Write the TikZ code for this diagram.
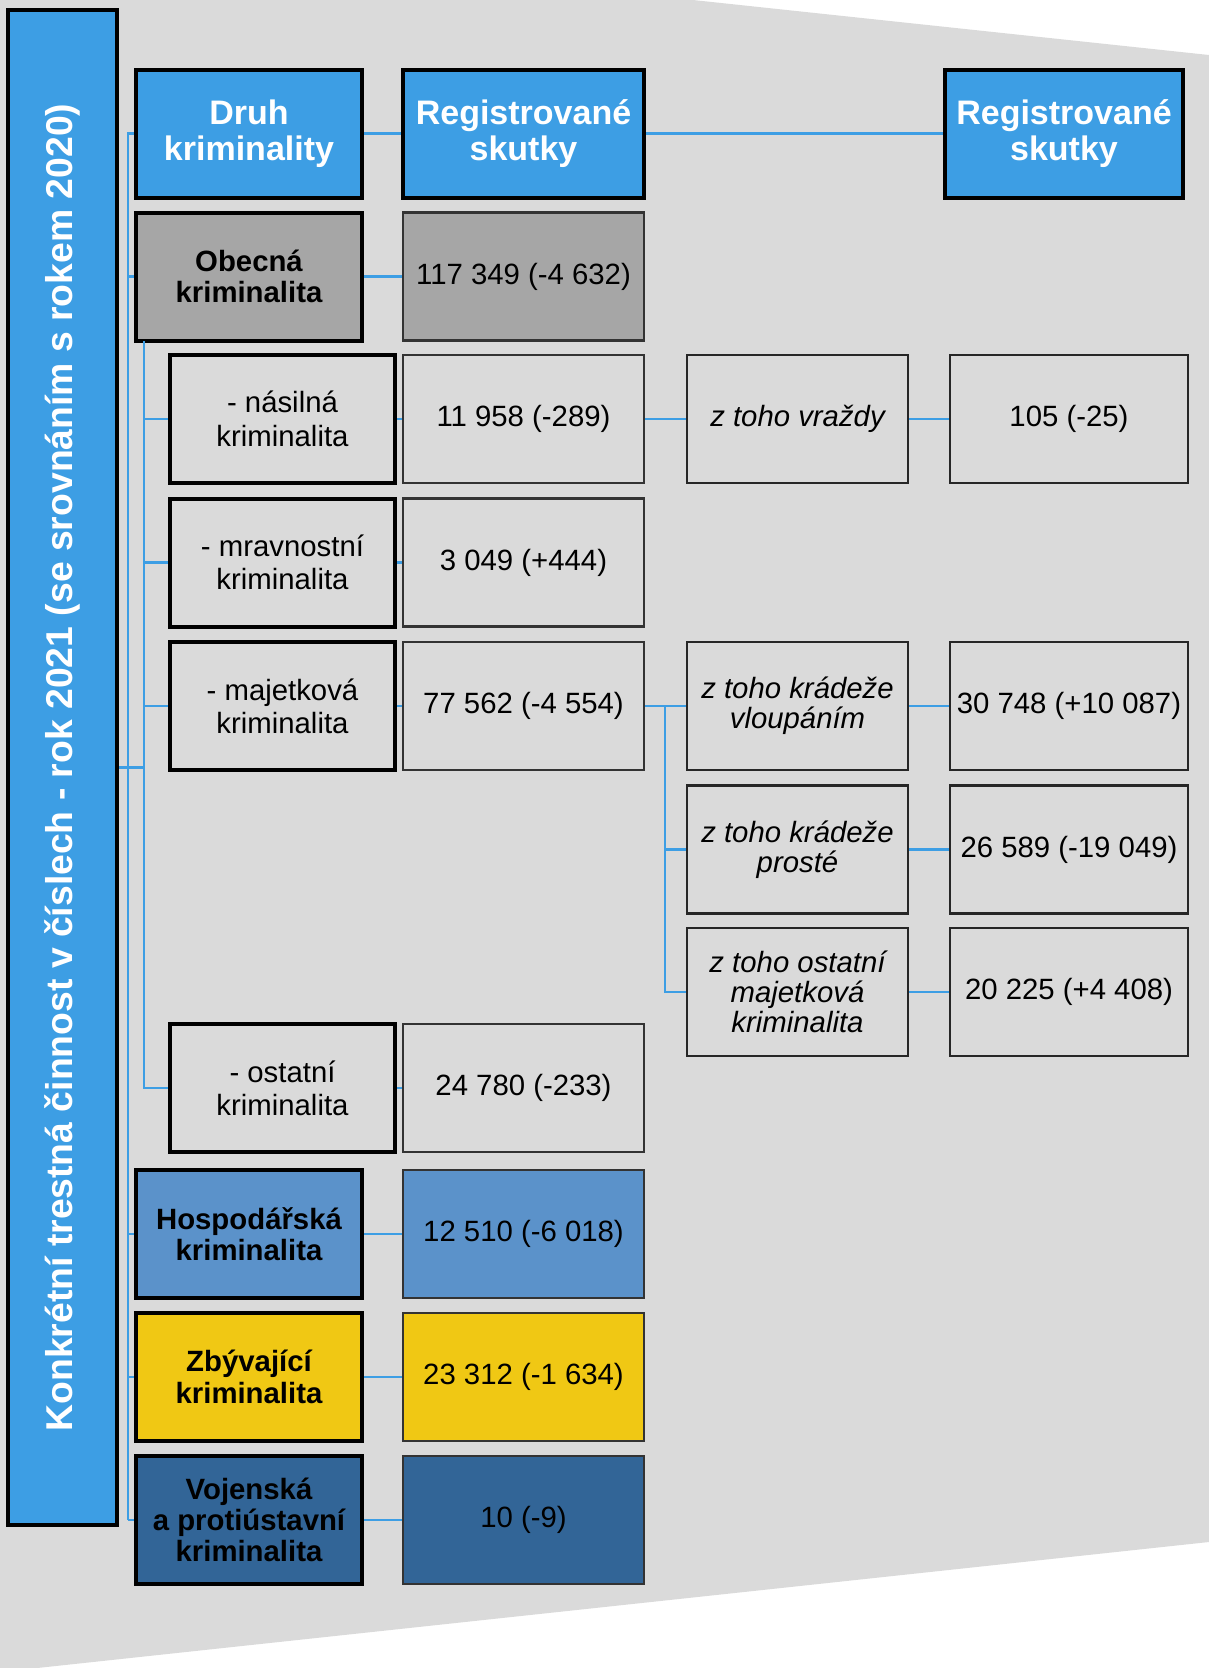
\documentclass[tikz,border=0pt]{standalone}
\usepackage{fontspec}
\setmainfont{Liberation Sans}
\usepackage{tikz}
\usetikzlibrary{positioning}
\definecolor{pcrblue}{RGB}{61,158,228}
\definecolor{pcrgrey}{RGB}{218,218,218}
\definecolor{obecgrey}{RGB}{166,166,166}
\definecolor{hospblue}{RGB}{91,146,202}
\definecolor{zbyvyellow}{RGB}{240,200,20}
\definecolor{vojblue}{RGB}{50,101,151}

\begin{document}
\begin{tikzpicture}[x=0.75pt,y=-0.75pt,
    cell/.style={rectangle, align=center, inner sep=2pt, minimum height=96pt},
    druhbox/.style={cell, minimum width=169.5pt, draw=black, line width=3pt, font=\bfseries\fontsize{22}{23.5}\selectfont},
    hodnbox/.style={cell, minimum width=180.75pt, draw=black!80, line width=2pt, font=\fontsize{22}{24}\selectfont},
    podbox/.style={cell, minimum width=168.75pt, draw=black, line width=3pt, font=\fontsize{22}{25}\selectfont},
    ztohobox/.style={cell, minimum width=165.75pt, draw=black!85, line width=2.2pt, font=\itshape\fontsize{22}{22.5}\selectfont},
    pocetbox/.style={cell, minimum width=178.5pt, draw=black!85, line width=2.2pt, font=\fontsize{22}{24}\selectfont},
    hlavicka/.style={fill=pcrblue, text=white, draw=black, line width=3pt, font=\bfseries\fontsize{25.5}{27}\selectfont},
    link/.style={draw=pcrblue, line width=1.9pt}]
    \useasboundingbox (0,0) rectangle (1209,1668);
    % grey backdrop
    \fill[pcrgrey] (0,0) -- (693,0) -- (1209,55) -- (1209,1542) -- (0,1672) -- cycle;

    % side title
    \node (title) [rotate=90, fill=pcrblue, draw=black, line width=3pt, minimum width=1136pt, minimum height=81.75pt,
        text=white, font=\bfseries\fontsize{28}{30}\selectfont] at (62.5,767.5)
        {Konkrétní trestná činnost v číslech - rok 2021 (se srovnáním s rokem 2020)};

    % header row
    \node (druh) [druhbox, hlavicka] at (249,133.5) {Druh\\kriminality};
    \node (reg) [hodnbox, hlavicka] at (523.5,133.5) {Registrované\\skutky};
    \node (regr) [pocetbox, hlavicka] at (1064,133.5) {Registrované\\skutky};

    % obecna kriminalita
    \node (obec) [druhbox, fill=obecgrey] at (249,276.5) {Obecná\\kriminalita};
    \node (obecv) [hodnbox, fill=obecgrey] at (523.5,276.5) {117 349 (-4 632)};
    \node (nas) [podbox] at (282.5,419) {- násilná\\kriminalita};
    \node (nasv) [hodnbox] at (523.5,419) {11 958 (-289)};
    \node (vrazdy) [ztohobox] at (797.5,419) {z toho vraždy};
    \node (vrazdyv) [pocetbox] at (1069,419) {105 (-25)};
    \node (mrav) [podbox] at (282.5,562.5) {- mravnostní\\kriminalita};
    \node (mravv) [hodnbox] at (523.5,562.5) {3 049 (+444)};
    \node (maj) [podbox] at (282.5,706) {- majetková\\kriminalita};
    \node (majv) [hodnbox] at (523.5,706) {77 562 (-4 554)};
    \node (vloup) [ztohobox] at (797.5,706) {z toho krádeže\\vloupáním};
    \node (vloupv) [pocetbox] at (1069,706) {30 748 (+10 087)};
    \node (prost) [ztohobox] at (797.5,849.5) {z toho krádeže\\prosté};
    \node (prostv) [pocetbox] at (1069,849.5) {26 589 (-19 049)};
    \node (ostm) [ztohobox] at (797.5,992) {z toho ostatní\\majetková\\kriminalita};
    \node (ostmv) [pocetbox] at (1069,992) {20 225 (+4 408)};
    \node (ost) [podbox] at (282.5,1088) {- ostatní\\kriminalita};
    \node (ostv) [hodnbox] at (523.5,1088) {24 780 (-233)};

    % other kinds
    \node (hosp) [druhbox, fill=hospblue] at (249,1234) {Hospodářská\\kriminalita};
    \node (hospv) [hodnbox, fill=hospblue] at (523.5,1234) {12 510 (-6 018)};
    \node (zbyv) [druhbox, fill=zbyvyellow] at (249,1377) {Zbývající\\kriminalita};
    \node (zbyvv) [hodnbox, fill=zbyvyellow] at (523.5,1377) {23 312 (-1 634)};
    \node (voj) [druhbox, fill=vojblue] at (249,1520) {Vojenská\\a protiústavní\\kriminalita};
    \node (vojv) [hodnbox, fill=vojblue] at (523.5,1520) {10 (-9)};

    % connectors
    \coordinate (kmen) at (128,133.5);
    \coordinate (pod) at (144,341);
    \coordinate (vetev) at (665,706);
    \draw[link] (druh.west) -- (kmen) -- (kmen |- voj.west);
    \foreach \n in {obec,hosp,zbyv,voj}
        \draw[link] (kmen |- \n.west) -- (\n.west);
    \draw[link] (pod) |- (ost.west);
    \draw[link] (title.south) -- (title.south -| pod);
    \foreach \n in {nas,mrav,maj}
        \draw[link] (pod |- \n.west) -- (\n.west);
    \draw[link] (druh) -- (reg) -- (regr);
    \draw[link] (obec) -- (obecv);
    \draw[link] (nas) -- (nasv) -- (vrazdy) -- (vrazdyv);
    \draw[link] (mrav) -- (mravv);
    \draw[link] (maj) -- (majv) -- (vloup) -- (vloupv);
    \draw[link] (vetev) |- (ostm.west);
    \draw[link] (vetev |- prost.west) -- (prost.west);
    \draw[link] (prost) -- (prostv);
    \draw[link] (ostm) -- (ostmv);
    \draw[link] (ost) -- (ostv);
    \draw[link] (hosp) -- (hospv);
    \draw[link] (zbyv) -- (zbyvv);
    \draw[link] (voj) -- (vojv);
\end{tikzpicture}
\end{document}
